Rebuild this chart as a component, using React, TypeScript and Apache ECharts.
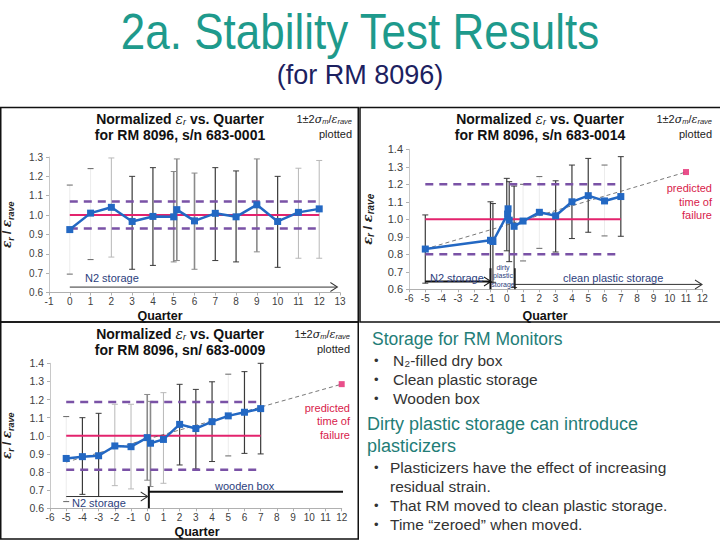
import React, { useEffect, useRef } from 'react';
import * as echarts from 'echarts';

const FONT = '"Liberation Sans", Arial, Helvetica, sans-serif';
const BLUE = '#2368c3';
const PINK = '#e3236d';
const PURPLE = '#7a52a6';
const NAVY = '#2c3e7d';
const RED = '#d81b4a';
const CHEV = 'path://M0,0L10,6L0,12';

// ---- Chart 1: s/n 683-0001 ----
const quarters1 = [0, 1, 2, 3, 4, 5, 5.15, 6, 7, 8, 9, 10, 11, 12];
const ratio1 = [0.925, 1.01, 1.04, 0.967, 0.993, 0.991, 1.028, 0.97, 1.009, 0.991, 1.053, 0.967, 1.014, 1.032];
const errQ1 = [0, 1, 2, 3, 4, 5, 5.15, 6, 7, 8, 9, 10, 11, 12];
const errHi1 = [1.155, 1.24, 1.295, 1.2, 1.245, 1.225, 1.29, 1.217, 1.245, 1.228, 1.29, 1.2, 1.242, 1.282];
const errLo1 = [0.695, 0.77, 0.783, 0.72, 0.74, 0.758, 0.765, 0.72, 0.765, 0.758, 0.81, 0.73, 0.777, 0.777];
const errTone1 = [0, 0, 1, 3, 3, 2, 2, 2, 3, 3, 2, 3, 1, 1];
const band1 = [0.93, 1.07];
const span1 = [0, 12];
const n2Arrow1 = [[0, 0.628], [12.85, 0.628]];

// ---- Chart 2: s/n 683-0014 ----
const quarters2 = [-5, -1, -0.85, 0.05, 0.08, 0.15, 0.45, 1, 2, 3, 4, 5, 6, 7];
const ratio2 = [0.83, 0.88, 0.873, 1.03, 1.06, 0.995, 0.96, 0.99, 1.04, 1.02, 1.1, 1.135, 1.105, 1.13];
const errQ2 = [-5, -1, -0.85, 0.0, 0.15, 0.45, 1, 2, 3, 4, 5, 6, 7];
const errHi2 = [1.025, 1.1, 1.09, 1.234, 1.215, 1.19, 1.2, 1.244, 1.22, 1.31, 1.348, 1.31, 1.358];
const errLo2 = [0.635, 0.64, 0.64, 0.82, 0.758, 0.61, 0.762, 0.834, 0.813, 0.89, 0.926, 0.905, 0.903];
const errTone2 = [3, 3, 3, 3, 3, 3, 0, 0, 3, 3, 3, 0, 3];
const band2 = [0.8, 1.2];
const span2 = [-5, 7];
const trend2 = [[-5, 0.83], [11, 1.27]];
const failure2 = [[11, 1.27]];
const n2Arrow2 = [[-5, 0.645], [-1, 0.645]];
const cleanArrow2 = [[0.5, 0.628], [11.95, 0.628]];
const marks2 = [-1, 0.5];

// ---- Chart 3: sn/ 683-0009 ----
const quarters3 = [-5, -4, -3, -2, -1, 0, 0.2, 1, 2, 3, 4, 5, 6, 7];
const ratio3 = [0.875, 0.885, 0.89, 0.944, 0.94, 0.99, 0.959, 0.98, 1.063, 1.04, 1.078, 1.11, 1.13, 1.15];
const errQ3 = [-5, -4, -3, -2, -1, 0, 0.2, 1, 2, 3, 4, 5, 6, 7];
const errHi3 = [1.106, 1.1, 1.124, 1.174, 1.174, 1.228, 1.19, 1.238, 1.284, 1.256, 1.298, 1.34, 1.354, 1.4];
const errLo3 = [0.637, 0.677, 0.665, 0.725, 0.707, 0.755, 0.72, 0.738, 0.839, 0.817, 0.858, 0.889, 0.903, 0.9];
const errTone3 = [0, 3, 3, 1, 1, 2, 2, 1, 3, 3, 3, 0, 3, 3];
const band3 = [0.813, 1.187];
const span3 = [-5, 7];
const trend3 = [[-5, 0.855], [12, 1.285]];
const failure3 = [[12, 1.285]];
const n2Arrow3 = [[-5, 0.665], [0, 0.665]];
const woodArrow3 = [[0.1, 0.692], [12.2, 0.692]];
const mark3 = 0.1;

const TONES = ['#ececec', '#b8b8b8', '#8a8a8a', '#3a3a3a'];
const TONE_W = [1, 1, 1.6, 1.2];

function errSeries(g: number, xs: number[], hi: number[], lo: number[], tone: number[]) {
  return {
    type: 'custom',
    xAxisIndex: g,
    yAxisIndex: g,
    z: 1,
    silent: true,
    data: xs.map((x, i) => [x, hi[i], lo[i], tone[i]]),
    encode: { x: 0, y: [1, 2] },
    renderItem: (params: any, api: any) => {
      const x = api.value(0);
      const t = api.value(3);
      const top = api.coord([x, api.value(1)]);
      const bot = api.coord([x, api.value(2)]);
      const c = TONES[t];
      const capC = t === 0 ? '#666' : c;
      return {
        type: 'group',
        children: [
          { type: 'line', shape: { x1: top[0], y1: top[1], x2: bot[0], y2: bot[1] }, style: { stroke: c, lineWidth: TONE_W[t] } },
          { type: 'line', shape: { x1: top[0] - 3, y1: top[1], x2: top[0] + 3, y2: top[1] }, style: { stroke: capC, lineWidth: 1 } },
          { type: 'line', shape: { x1: bot[0] - 3, y1: bot[1], x2: bot[0] + 3, y2: bot[1] }, style: { stroke: capC, lineWidth: 1 } },
        ],
      };
    },
  };
}

function seg(g: number, pts: number[][], color: string, width: number, type: any = 'solid', z = 3) {
  return {
    type: 'line', xAxisIndex: g, yAxisIndex: g, data: pts, symbol: 'none', silent: true, z,
    lineStyle: { color, width, type },
  };
}

function arrow(g: number, pts: number[][], color: string, width: number) {
  return {
    type: 'line', xAxisIndex: g, yAxisIndex: g, silent: true, z: 4, symbol: 'none',
    lineStyle: { color, width },
    data: [
      { value: pts[0], symbol: 'none' },
      {
        value: pts[1], symbol: CHEV, symbolSize: [7, 9], symbolOffset: [-3, 0],
        itemStyle: { color: 'none', borderColor: color, borderWidth: 1 },
      },
    ],
  };
}

function dataLine(g: number, xs: number[], ys: number[]) {
  return {
    type: 'line', xAxisIndex: g, yAxisIndex: g, z: 6, silent: true,
    data: xs.map((x, i) => [x, ys[i]]),
    symbol: 'rect', symbolSize: 7,
    lineStyle: { color: BLUE, width: 2.5 },
    itemStyle: { color: BLUE },
  };
}

function hLine(g: number, span: number[], y: number, color: string, width: number, type: any) {
  return seg(g, [[span[0], y], [span[1], y]], color, width, type, 2);
}

const yRich = (size: number) => ({
  g: { fontFamily: 'DejaVu Serif', fontStyle: 'italic', fontWeight: 'bold', fontSize: size, color: '#222', verticalAlign: 'middle', lineHeight: 16 },
  n: { fontFamily: FONT, fontWeight: 'bold', fontSize: size, color: '#222', verticalAlign: 'middle', lineHeight: 16 },
  s: { fontFamily: FONT, fontStyle: 'italic', fontWeight: 'bold', fontSize: size - 3, color: '#222', verticalAlign: 'bottom', lineHeight: 9 },
});

function xAx(g: number, min: number, max: number, size: number) {
  return {
    gridIndex: g, type: 'value', min, max, interval: 1,
    axisLine: { onZero: false, lineStyle: { color: '#b0b0b0' } },
    axisTick: { show: true, length: 3, lineStyle: { color: '#b0b0b0' } },
    axisLabel: { fontFamily: FONT, fontSize: size, color: '#404040', margin: 4 },
    splitLine: { show: false },
  };
}

function yAx(g: number, max: number, size: number, gap: number, nameSize: number) {
  return {
    gridIndex: g, type: 'value', min: 0.6, max, interval: 0.1,
    axisLine: { show: true, onZero: false, lineStyle: { color: '#c8c8c8' } },
    axisTick: { show: true, length: 3, lineStyle: { color: '#b0b0b0' } },
    axisLabel: { fontFamily: FONT, fontSize: size, color: '#404040', margin: 6, formatter: (v: number) => v.toFixed(1) },
    splitLine: { show: false },
    name: '{g|ε}{s|r}{n| / }{g|ε}{s|rave}',
    nameLocation: 'middle', nameRotate: 90, nameGap: gap,
    nameTextStyle: { rich: yRich(nameSize) },
  };
}

function txt(x: number, y: number, text: string, size: number, color: string, align = 'left', weight: any = 'normal', family = FONT) {
  return {
    type: 'text', x, y, z: 100, silent: true,
    style: {
      text, fill: color, fontSize: size, fontFamily: family, fontWeight: weight,
      align, textAlign: align, verticalAlign: 'middle', textVerticalAlign: 'middle',
    },
  };
}

function richTxt(x: number, y: number, text: string, rich: any, align = 'center') {
  return {
    type: 'text', x, y, z: 100, silent: true,
    style: { text, rich, align, textAlign: align, verticalAlign: 'middle', textVerticalAlign: 'middle' },
  };
}

const titleRich = {
  b: { fontFamily: FONT, fontWeight: 'bold', fontSize: 14, fill: '#111', verticalAlign: 'middle', lineHeight: 15 },
  e: { fontFamily: 'DejaVu Serif', fontStyle: 'italic', fontSize: 14, fill: '#111', verticalAlign: 'middle', lineHeight: 15 },
  r: { fontFamily: FONT, fontStyle: 'italic', fontSize: 9, fill: '#111', verticalAlign: 'bottom', lineHeight: 9 },
};
const sigmaRich = {
  n: { fontFamily: FONT, fontSize: 11, fill: '#222', verticalAlign: 'middle', lineHeight: 13 },
  g: { fontFamily: 'DejaVu Serif', fontStyle: 'italic', fontSize: 11, fill: '#222', verticalAlign: 'middle', lineHeight: 13 },
  s: { fontFamily: FONT, fontStyle: 'italic', fontSize: 7.5, fill: '#222', verticalAlign: 'bottom', lineHeight: 8 },
};
const SIGMA = '{n|1±2}{g|σ}{s|m}{n|/}{g|ε}{s|rave}';

function chartTitle(cx: number, y: number, sn: string, rx: number) {
  return [
    richTxt(cx, y, '{b|Normalized }{e|ε}{r|r}{b| vs. Quarter}', titleRich),
    txt(cx, y + 16, 'for RM 8096, ' + sn, 14, '#111', 'center', 'bold'),
    richTxt(rx, y, SIGMA, sigmaRich, 'right'),
    txt(rx, y + 15, 'plotted', 11, '#222', 'right'),
  ];
}

export default function App() {
  const ref = useRef<HTMLDivElement>(null);
  useEffect(() => {
    if (!ref.current) return;
    const chart = echarts.init(ref.current, undefined, { renderer: 'svg' });
    const title: any = txt(360, 32, '2a. Stability Test Results', 44, '#1e9a8c', 'center');
    title.scaleY = 1.12;
    const graphic: any[] = [
      { type: 'rect', z: 100, silent: true, shape: { x: 0.75, y: 107.5, width: 357.5, height: 214.5 }, style: { fill: 'none', stroke: '#111', lineWidth: 1.5 } },
      { type: 'rect', z: 100, silent: true, shape: { x: 360, y: 107.5, width: 362, height: 214.5 }, style: { fill: 'none', stroke: '#111', lineWidth: 1.5 } },
      { type: 'rect', z: 100, silent: true, shape: { x: 0.75, y: 322, width: 357.5, height: 217 }, style: { fill: 'none', stroke: '#111', lineWidth: 1.5 } },
      title,
      txt(360, 75, '(for RM 8096)', 27, '#1c2160', 'center'),
      ...chartTitle(180, 119, 's/n 683-0001', 352),
      ...chartTitle(540, 119, 's/n 683-0014', 712),
      ...chartTitle(180, 334, 'sn/ 683-0009', 350),
      txt(160, 315.5, 'Quarter', 12.5, '#111', 'center', 'bold'),
      txt(545, 315.5, 'Quarter', 12.5, '#111', 'center', 'bold'),
      txt(197, 531.5, 'Quarter', 12.5, '#111', 'center', 'bold'),
      txt(85, 278, 'N2 storage', 11, NAVY),
      txt(430, 278, 'N2 storage', 11, NAVY),
      txt(563, 278, 'clean plastic storage', 11, NAVY),
      txt(503, 267, 'dirty', 7, NAVY, 'center'),
      txt(503, 275.5, 'plastic', 7, NAVY, 'center'),
      txt(503, 284, 'storage', 7, NAVY, 'center'),
      txt(72, 503, 'N2 storage', 11, NAVY),
      txt(215, 486, 'wooden box', 11, NAVY),
      txt(712, 188, 'predicted', 11, RED, 'right'),
      txt(712, 201.5, 'time of', 11, RED, 'right'),
      txt(712, 215, 'failure', 11, RED, 'right'),
      txt(350, 408, 'predicted', 11, RED, 'right'),
      txt(350, 421, 'time of', 11, RED, 'right'),
      txt(350, 434.5, 'failure', 11, RED, 'right'),
      txt(372, 339, 'Storage for RM Monitors', 17.5, '#237d77'),
      txt(374, 360, '•', 13, '#333'),
      txt(374, 379, '•', 13, '#333'),
      txt(374, 398, '•', 13, '#333'),
      txt(393, 360, 'N₂-filled dry box', 15.5, '#333'),
      txt(393, 379, 'Clean plastic storage', 15.5, '#333'),
      txt(393, 398, 'Wooden box', 15.5, '#333'),
      txt(367, 424, 'Dirty plastic storage can introduce', 18, '#237d77'),
      txt(367, 446, 'plasticizers', 18, '#237d77'),
      txt(374, 467, '•', 13, '#333'),
      txt(374, 505, '•', 13, '#333'),
      txt(374, 524, '•', 13, '#333'),
      txt(390, 467, 'Plasticizers have the effect of increasing', 15.5, '#333'),
      txt(390, 486, 'residual strain.', 15.5, '#333'),
      txt(390, 505, 'That RM moved to clean plastic storage.', 15.5, '#333'),
      txt(390, 524, 'Time “zeroed” when moved.', 15.5, '#333'),
    ];

    const series: any[] = [
      // chart 1
      errSeries(0, errQ1, errHi1, errLo1, errTone1),
      hLine(0, span1, band1[0], PURPLE, 2.5, [8, 6]),
      hLine(0, span1, band1[1], PURPLE, 2.5, [8, 6]),
      hLine(0, span1, 1.0, PINK, 2, 'solid'),
      arrow(0, n2Arrow1, '#333', 1),
      dataLine(0, quarters1, ratio1),
      // chart 2
      errSeries(1, errQ2, errHi2, errLo2, errTone2),
      hLine(1, span2, band2[0], PURPLE, 2.5, [8, 6]),
      hLine(1, span2, band2[1], PURPLE, 2.5, [8, 6]),
      hLine(1, span2, 1.0, PINK, 2, 'solid'),
      seg(1, trend2, '#555', 0.8, [4, 3], 4),
      arrow(1, n2Arrow2, '#111', 2),
      arrow(1, cleanArrow2, '#333', 1),
      seg(1, [[marks2[0], 0.6], [marks2[0], 0.72]], '#111', 2, 'solid', 4),
      seg(1, [[marks2[1], 0.6], [marks2[1], 0.72]], '#111', 1.5, 'solid', 4),
      dataLine(1, quarters2, ratio2),
      { type: 'scatter', xAxisIndex: 1, yAxisIndex: 1, data: failure2, symbol: 'rect', symbolSize: 6, itemStyle: { color: PINK }, z: 6, silent: true },
      // chart 3
      errSeries(2, errQ3, errHi3, errLo3, errTone3),
      hLine(2, span3, band3[0], PURPLE, 2.5, [8, 6]),
      hLine(2, span3, band3[1], PURPLE, 2.5, [8, 6]),
      hLine(2, span3, 1.0, PINK, 2, 'solid'),
      seg(2, trend3, '#555', 0.8, [4, 3], 4),
      arrow(2, n2Arrow3, '#333', 1),
      arrow(2, woodArrow3, '#111', 2),
      seg(2, [[mark3, 0.6], [mark3, 0.72]], '#111', 2, 'solid', 4),
      dataLine(2, quarters3, ratio3),
      { type: 'scatter', xAxisIndex: 2, yAxisIndex: 2, data: failure3, symbol: 'rect', symbolSize: 6, itemStyle: { color: PINK }, z: 6, silent: true },
    ];

    chart.setOption({
      animation: false,
      backgroundColor: '#ffffff',
      grid: [
        { left: 46.7, right: 380, top: 157, bottom: 247.5 },
        { left: 409, right: 17.7, top: 149.3, bottom: 250.7 },
        { left: 48.3, right: 378.3, top: 363.3, bottom: 31.7 },
      ],
      xAxis: [xAx(0, -1, 13, 10), xAx(1, -6, 12, 10), xAx(2, -6, 12, 10)],
      yAxis: [yAx(0, 1.3, 10, 34, 12), yAx(1, 1.4, 11, 34, 13), yAx(2, 1.4, 10.5, 35, 12)],
      series,
      graphic,
    });
    return () => chart.dispose();
  }, []);
  return <div ref={ref} style={{ position: 'absolute', left: 0, top: 0, width: 720, height: 540, background: '#fff' }} />;
}
